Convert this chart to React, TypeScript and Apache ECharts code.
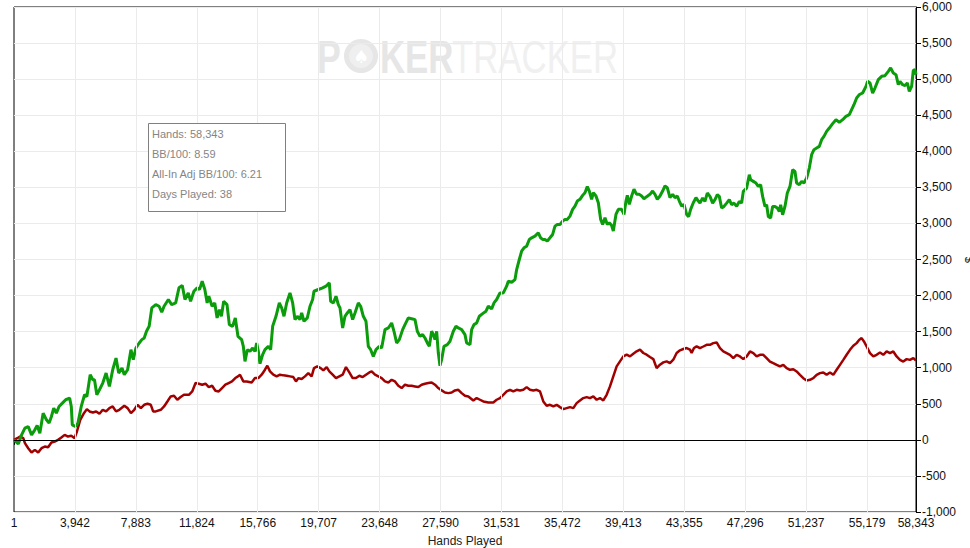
import React, { useEffect, useRef } from "react";
import * as echarts from "echarts";

const xTickValues = [1, 3942, 7883, 11824, 15766, 19707, 23648, 27590, 31531, 35472, 39413, 43355, 47296, 51237, 55179, 58343];
const yMin = -1000;
const yMax = 6000;
const yStep = 500;

const summaryLines = ["Hands: 58,343", "BB/100: 8.59", "All-In Adj BB/100: 6.21", "Days Played: 38"];

// [hands, big blinds won]
const bbWon: [number, number][] = [
  [1, 0], [279, -56], [493, 69], [707, 162], [921, 185], [1136, 69], [1350, 139], [1500, 199], [1672, 93], [1886, 370],
  [2100, 278], [2272, 232], [2422, 324], [2572, 440], [2743, 370], [2915, 463], [3129, 509], [3343, 556], [3600, 579], [3707, 463],
  [3772, 208], [3965, 185], [4136, 232], [4350, 463], [4565, 625], [4715, 602], [4929, 903], [5100, 833], [5207, 833], [5358, 625],
  [5529, 695], [5743, 787], [5958, 926], [6172, 741], [6386, 972], [6600, 1134], [6772, 926], [6986, 995], [7136, 903], [7350, 972],
  [7458, 1111], [7565, 1250], [7715, 1111], [7886, 1273], [8100, 1343], [8272, 1389], [8422, 1412], [8572, 1505], [8743, 1574], [8915, 1829],
  [9172, 1875], [9386, 1852], [9558, 1769], [9708, 1852], [9986, 1945], [10200, 1875], [10458, 1898], [10672, 2107], [10886, 2139], [11058, 1945],
  [11272, 2037], [11422, 1921], [11636, 2060], [11851, 2107], [12001, 2084], [12172, 2199], [12344, 2084], [12494, 1898], [12601, 1991], [12815, 1852],
  [12987, 1898], [13137, 1690], [13287, 1806], [13415, 1713], [13565, 1921], [13779, 1875], [13929, 1597], [14144, 1574], [14315, 1690], [14487, 1435],
  [14726, 1389], [14834, 1296], [14941, 1088], [15092, 1250], [15265, 1227], [15437, 1273], [15588, 1227], [15696, 1343], [15804, 1227], [15912, 1056],
  [16084, 1181], [16235, 1250], [16451, 1296], [16601, 1250], [16731, 1574], [16947, 1713], [17162, 1898], [17313, 1829], [17464, 1713], [17637, 1898],
  [17852, 2037], [18025, 1898], [18175, 1667], [18326, 1713], [18499, 1667], [18607, 1759], [18757, 1644], [18973, 1690], [19146, 1852], [19318, 1945],
  [19404, 2060], [19685, 2084], [19965, 2107], [20181, 2130], [20396, 2176], [20482, 1921], [20655, 1898], [20827, 1991], [20978, 1875], [21086, 1829],
  [21259, 1551], [21409, 1713], [21560, 1759], [21733, 1806], [21905, 1667], [22056, 1759], [22272, 1898], [22423, 1852], [22595, 1713], [22768, 1644],
  [22919, 1296], [23070, 1250], [23242, 1157], [23415, 1250], [23630, 1296], [23781, 1273], [23997, 1528], [24213, 1551], [24428, 1620], [24579, 1505],
  [24751, 1343], [24924, 1389], [25139, 1528], [25290, 1597], [25506, 1690], [25786, 1676], [25937, 1667], [26088, 1505], [26260, 1435], [26433, 1459],
  [26584, 1412], [26735, 1343], [26864, 1296], [27015, 1505], [27123, 1459], [27231, 1389], [27339, 1505], [27446, 1204], [27554, 1028], [27662, 1111],
  [27813, 1296], [28029, 1320], [28201, 1366], [28417, 1505], [28589, 1574], [28740, 1551], [28956, 1528], [29171, 1459], [29279, 1343], [29495, 1320],
  [29602, 1528], [29753, 1597], [29925, 1620], [30098, 1713], [30313, 1750], [30529, 1783], [30680, 1852], [30895, 1815], [31046, 1898], [31219, 1945],
  [31434, 2037], [31650, 2037], [31866, 2130], [31974, 2199], [32189, 2185], [32405, 2222], [32513, 2361], [32685, 2500], [32836, 2616], [32987, 2662],
  [33160, 2685], [33332, 2778], [33483, 2801], [33699, 2824], [33914, 2870], [34065, 2801], [34194, 2778], [34345, 2778], [34496, 2755], [34669, 2801],
  [34841, 2847], [34992, 2963], [35143, 2986], [35316, 2986], [35488, 3032], [35639, 3056], [35790, 3056], [35962, 3102], [36135, 3195], [36286, 3241],
  [36436, 3310], [36609, 3334], [36781, 3389], [36932, 3426], [37083, 3510], [37213, 3449], [37363, 3334], [37471, 3426], [37644, 3380], [37795, 3287],
  [37946, 3056], [38075, 2986], [38226, 3079], [38377, 2986], [38506, 3009], [38657, 2972], [38765, 2894], [38937, 3125], [39088, 3195], [39304, 3195],
  [39455, 3125], [39585, 3310], [39671, 3389], [39800, 3264], [39951, 3380], [40102, 3473], [40274, 3403], [40447, 3403], [40597, 3380], [40748, 3343],
  [40921, 3371], [41136, 3403], [41309, 3449], [41460, 3403], [41611, 3334], [41783, 3380], [41956, 3449], [42107, 3519], [42257, 3495], [42430, 3357],
  [42602, 3403], [42753, 3357], [42904, 3380], [43034, 3310], [43185, 3241], [43335, 3264], [43508, 3125], [43637, 3093], [43767, 3195], [43939, 3287],
  [44112, 3357], [44263, 3310], [44370, 3282], [44542, 3352], [44693, 3305], [44844, 3421], [45017, 3375], [45189, 3282], [45340, 3329], [45491, 3398],
  [45620, 3375], [45771, 3213], [45922, 3236], [46095, 3282], [46267, 3329], [46418, 3259], [46569, 3282], [46742, 3236], [46914, 3305], [47065, 3282],
  [47173, 3444], [47388, 3490], [47561, 3675], [47647, 3606], [47820, 3583], [47992, 3560], [48143, 3513], [48294, 3537], [48423, 3375], [48574, 3236],
  [48682, 3259], [48790, 3097], [48941, 3074], [49070, 3236], [49221, 3236], [49372, 3213], [49501, 3167], [49588, 3259], [49717, 3120], [49868, 3236],
  [50019, 3421], [50192, 3513], [50364, 3745], [50515, 3721], [50622, 3560], [50795, 3537], [50946, 3583], [51097, 3560], [51269, 3629], [51442, 3768],
  [51593, 3953], [51744, 4022], [51916, 4045], [52089, 4068], [52240, 4161], [52391, 4207], [52563, 4276], [52736, 4322], [52951, 4383], [53167, 4438],
  [53382, 4401], [53598, 4438], [53813, 4484], [54029, 4507], [54180, 4577], [54331, 4646], [54503, 4739], [54676, 4785], [54891, 4808], [55107, 4900],
  [55215, 4970], [55366, 4947], [55538, 4808], [55689, 4877], [55905, 4993], [56120, 5039], [56336, 5048], [56552, 5108], [56702, 5155], [56875, 5085],
  [57048, 5062], [57198, 4923], [57306, 4970], [57479, 4923], [57630, 4910], [57781, 4947], [57910, 4831], [58061, 4900], [58168, 5122], [58276, 5131],
  [58343, 5062],
];

// [hands, all-in adjusted big blinds]
const allInAdj: [number, number][] = [
  [1, 0], [214, 23], [386, 46], [600, 23], [707, -46], [921, -116], [1136, -176], [1350, -139], [1565, -176], [1779, -116],
  [1993, -93], [2207, -102], [2422, -37], [2636, -23], [2850, 0], [3065, 32], [3279, 69], [3493, 46], [3707, 56], [3922, 23],
  [4072, 116], [4286, 278], [4500, 361], [4715, 426], [4886, 394], [5100, 380], [5315, 394], [5529, 361], [5743, 417], [5958, 394],
  [6172, 440], [6386, 463], [6600, 394], [6815, 417], [7136, 472], [7350, 440], [7565, 370], [7779, 417], [7993, 486], [8207, 440],
  [8422, 486], [8636, 500], [8850, 486], [9000, 394], [9172, 394], [9494, 417], [9708, 463], [9922, 532], [10136, 602], [10351, 611],
  [10565, 556], [10779, 593], [10993, 625], [11315, 625], [11529, 671], [11744, 787], [11958, 778], [12172, 764], [12387, 778], [12601, 732],
  [12815, 750], [13029, 681], [13244, 671], [13458, 718], [13672, 764], [13886, 787], [14101, 810], [14315, 857], [14487, 880], [14618, 903],
  [14834, 810], [15050, 810], [15373, 796], [15588, 856], [15804, 856], [16019, 903], [16235, 972], [16386, 1028], [16558, 949], [16774, 903],
  [16990, 880], [17205, 903], [17421, 894], [17637, 889], [17852, 880], [18068, 870], [18240, 810], [18391, 856], [18607, 843], [18822, 880],
  [19038, 926], [19253, 880], [19404, 995], [19620, 1019], [19836, 995], [20008, 963], [20224, 1009], [20396, 949], [20612, 903], [20827, 856],
  [21043, 880], [21259, 903], [21474, 1009], [21690, 935], [21905, 856], [22121, 856], [22337, 889], [22552, 870], [22768, 903], [22983, 935],
  [23134, 949], [23350, 903], [23566, 880], [23781, 856], [23997, 810], [24213, 796], [24428, 833], [24644, 810], [24859, 750], [25075, 718],
  [25290, 764], [25506, 750], [25722, 750], [25937, 741], [26153, 732], [26369, 764], [26584, 778], [26800, 787], [27015, 796], [27231, 764],
  [27446, 718], [27662, 685], [27878, 657], [28093, 648], [28309, 657], [28525, 685], [28740, 694], [28956, 648], [29171, 611], [29387, 602],
  [29710, 546], [29925, 579], [30141, 556], [30357, 532], [30680, 519], [31003, 519], [31219, 556], [31434, 579], [31650, 625], [31866, 671],
  [32081, 694], [32297, 671], [32513, 694], [32728, 685], [32944, 694], [33160, 731], [33375, 694], [33591, 685], [33806, 694], [34022, 671],
  [34237, 532], [34453, 472], [34669, 486], [34884, 463], [35100, 486], [35316, 454], [35531, 426], [35747, 440], [35962, 454], [36178, 440],
  [36393, 509], [36609, 546], [36824, 579], [37040, 593], [37256, 579], [37471, 602], [37687, 556], [37903, 579], [38118, 546], [38334, 625],
  [38549, 741], [38765, 880], [38981, 1019], [39196, 1088], [39412, 1157], [39627, 1181], [39843, 1157], [40059, 1194], [40274, 1227], [40490, 1250],
  [40705, 1204], [40921, 1181], [41136, 1148], [41352, 1120], [41568, 995], [41783, 1042], [41999, 1074], [42215, 1088], [42430, 1065], [42646, 1111],
  [42861, 1204], [43077, 1241], [43292, 1259], [43508, 1273], [43724, 1250], [43831, 1204], [43982, 1273], [44155, 1296], [44370, 1271], [44586, 1294],
  [44801, 1318], [45017, 1318], [45232, 1341], [45448, 1350], [45664, 1271], [45879, 1225], [46095, 1202], [46310, 1179], [46526, 1133], [46742, 1179],
  [46957, 1156], [47173, 1119], [47388, 1156], [47604, 1225], [47820, 1202], [48035, 1156], [48251, 1179], [48466, 1179], [48682, 1133], [48898, 1086],
  [49113, 1063], [49329, 1040], [49544, 1017], [49760, 1040], [49976, 994], [50191, 971], [50407, 980], [50622, 948], [50838, 901], [51054, 855],
  [51269, 823], [51485, 832], [51700, 855], [51916, 901], [52132, 925], [52347, 934], [52563, 901], [52778, 934], [52994, 901], [53210, 971],
  [53425, 1040], [53641, 1109], [53856, 1179], [54072, 1248], [54288, 1304], [54503, 1341], [54676, 1387], [54826, 1410], [54977, 1364], [55150, 1294],
  [55366, 1202], [55581, 1156], [55797, 1179], [56012, 1211], [56228, 1179], [56444, 1225], [56659, 1202], [56875, 1225], [57090, 1156], [57306, 1109],
  [57522, 1086], [57737, 1119], [57953, 1109], [58168, 1133], [58343, 1100],
];

const FONT = "'Liberation Sans', Arial, sans-serif";
const fmt = (v: number) => Math.round(v).toLocaleString("en-US");

export default function App() {
  const ref = useRef<HTMLDivElement>(null);
  useEffect(() => {
    if (!ref.current) return;
    const chart = echarts.init(ref.current, null, { renderer: "svg" });
    const innerTicks = xTickValues.slice(1, xTickValues.length - 1);
    const option: any = {
      animation: false,
      backgroundColor: "#ffffff",
      grid: {
        left: 14, right: 54, top: 7, bottom: 36,
        show: true, borderColor: "#000", borderWidth: 1,
        containLabel: false, outerBoundsMode: "none",
      },
      xAxis: {
        type: "value", min: 1, max: 58343,
        name: "Hands Played", nameLocation: "middle", nameGap: 23,
        nameTextStyle: { fontFamily: FONT, fontSize: 12, color: "#222" },
        axisLine: { show: true, lineStyle: { color: "#000", width: 1 } },
        axisTick: { show: true, length: 5, lineStyle: { color: "#000" }, customValues: xTickValues },
        axisLabel: { customValues: xTickValues, formatter: (v: number) => fmt(v), fontFamily: FONT, fontSize: 12, color: "#111", margin: 5 },
        splitLine: { show: false },
      },
      yAxis: {
        type: "value", position: "right", min: yMin, max: yMax, interval: yStep,
        axisLine: { show: true, lineStyle: { color: "#000", width: 1 } },
        axisTick: { show: true, length: 5, lineStyle: { color: "#000" } },
        axisLabel: { formatter: (v: number) => fmt(v), fontFamily: FONT, fontSize: 12, color: "#111", margin: 6 },
        splitLine: { show: true, lineStyle: { color: "#ebebeb", width: 1 } },
      },
      series: [
        {
          type: "line", data: [[1, 0]], symbol: "none", silent: true, z: 1,
          lineStyle: { width: 0, opacity: 0 },
          markLine: {
            silent: true, symbol: ["none", "none"], label: { show: false },
            lineStyle: { color: "#ebebeb", type: "solid", width: 1 },
            data: [
              ...innerTicks.map((v) => ({ xAxis: v })),
              { yAxis: 0, lineStyle: { color: "#000", type: "solid", width: 1 } },
            ],
          },
        },
        {
          name: "All-In Adj", type: "line", data: allInAdj, symbol: "none", showSymbol: false, z: 2,
          lineStyle: { color: "#a00000", width: 2.5 },
        },
        {
          name: "Big Blinds Won", type: "line", data: bbWon, symbol: "none", showSymbol: false, z: 3,
          lineStyle: { color: "#0a9c0a", width: 3 },
        },
      ],
      graphic: [
        // watermark
        { type: "text", x: 317, y: 57, z: 0, silent: true, scaleX: 0.76, style: { text: "P", font: `bold 47px ${FONT}`, fill: "#e6e6e6", verticalAlign: "middle", align: "left" } },
        { type: "circle", shape: { cx: 361, cy: 56, r: 17 }, z: 0, silent: true, style: { fill: "#e6e6e6" } },
        { type: "circle", shape: { cx: 361, cy: 56, r: 12 }, z: 0, silent: true, style: { fill: "#efefef" } },
        { type: "text", x: 361, y: 56, z: 0, silent: true, style: { text: "♠", font: `18px 'DejaVu Sans'`, fill: "#ffffff", align: "center", verticalAlign: "middle" } },
        { type: "text", x: 380, y: 57, z: 0, silent: true, scaleX: 0.74, style: { text: "KER", font: `bold 47px ${FONT}`, fill: "#e6e6e6", verticalAlign: "middle", align: "left" } },
        { type: "text", x: 452, y: 57, z: 0, silent: true, scaleX: 0.74, style: { text: "TRACKER", font: `47px ${FONT}`, fill: "#f0f0f0", verticalAlign: "middle", align: "left" } },
        // summary box
        { type: "rect", shape: { x: 148.5, y: 123.5, width: 137, height: 88 }, z: 100, silent: true, style: { fill: "#ffffff", stroke: "#808080", lineWidth: 1 } },
        ...summaryLines.map((t, i) => ({
          type: "text", x: 152, y: 134 + i * 20, z: 101, silent: true,
          style: { text: t, font: `11px ${FONT}`, fill: "#858585", verticalAlign: "middle", align: "left" },
        })),
        // clipped axis title at the right edge
        { type: "text", x: 970, y: 260, rotation: Math.PI / 2, z: 5, silent: true, style: { text: "$", font: `12px ${FONT}`, fill: "#222", align: "center", verticalAlign: "middle" } },
      ],
    };
    chart.setOption(option);
    return () => chart.dispose();
  }, []);
  return <div ref={ref} style={{ position: "fixed", left: 0, top: 0, width: 970, height: 548 }} />;
}
